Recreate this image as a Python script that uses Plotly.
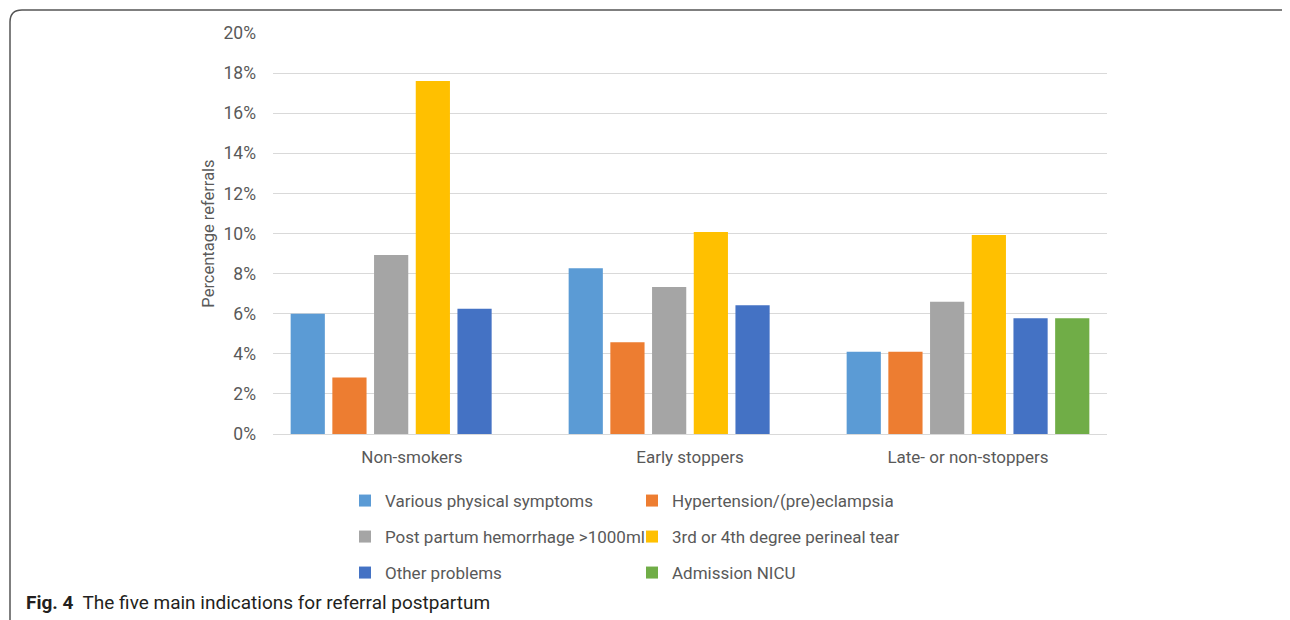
import plotly.graph_objects as go

categories = ["Non-smokers", "Early stoppers", "Late- or non-stoppers"]
series_names = [
    "Various physical symptoms",
    "Hypertension/(pre)eclampsia",
    "Post partum hemorrhage >1000ml",
    "3rd or 4th degree perineal tear",
    "Other problems",
    "Admission NICU",
]
various = [6.0, 8.27, 4.1]
hypertension = [2.82, 4.57, 4.1]
hemorrhage = [8.93, 7.33, 6.6]
perineal_tear = [17.6, 10.07, 9.92]
other_problems = [6.25, 6.42, 5.77]
nicu = [None, None, 5.77]
y_ticks = [0, 2, 4, 6, 8, 10, 12, 14, 16, 18, 20]
y_tick_labels = [f"{v}%" for v in y_ticks]

values = [various, hypertension, hemorrhage, perineal_tear, other_problems, nicu]
colors = ["#5B9BD5", "#ED7D31", "#A5A5A5", "#FFC000", "#4472C4", "#70AD47"]
legend_ids = ["legend", "legend", "legend2", "legend2", "legend3", "legend3"]

FONT = "Roboto, Arial, sans-serif"
OFF = 8  # default page body margin
W, H = 1290 - OFF, 620 - OFF
# plot area in page pixels
PL, PR, PT, PB = 273, 1107, 33, 434
L, R, T, B = PL - OFF, PR - OFF, PT - OFF, PB - OFF

def px_x(px):
    return (px - PL) / (PR - PL)

def px_y(py):
    return (PB - py) / (PB - PT)

fig = go.Figure()
for name, vals, col, lg in zip(series_names, values, colors, legend_ids):
    fig.add_trace(go.Bar(
        x=categories, y=vals, name=name, legend=lg,
        marker=dict(color=col, line=dict(width=0)),
    ))

legend_common = dict(
    orientation="h", xanchor="left", yanchor="middle",
    entrywidth=242, entrywidthmode="pixels",
    font=dict(family=FONT, size=17, color="#595959"),
    bgcolor="rgba(0,0,0,0)", itemwidth=30, traceorder="normal",
)

LEG_X = px_x(345)

fig.update_layout(
    width=W, height=H,
    margin=dict(l=L, r=W - R, t=T, b=H - B),
    paper_bgcolor="white", plot_bgcolor="white",
    barmode="group", bargap=0.1, bargroupgap=0.18,
    font=dict(family=FONT, size=17, color="#595959"),
    showlegend=True,
    legend=dict(x=LEG_X, y=px_y(501), **legend_common),
    legend2=dict(x=LEG_X, y=px_y(537), **legend_common),
    legend3=dict(x=LEG_X, y=px_y(573), **legend_common),
    xaxis=dict(
        showgrid=False, showline=True, linecolor="#D9D9D9", linewidth=1,
        ticks="", tickfont=dict(size=17, color="#595959"),
        ticklabelstandoff=8,
    ),
    yaxis=dict(
        range=[0, 20], tickvals=y_ticks, ticktext=y_tick_labels,
        showgrid=True, gridcolor="#D9D9D9", gridwidth=1,
        zeroline=False, showline=False, ticks="",
        tickfont=dict(size=17.5, color="#595959"),
        ticklabelstandoff=16,
        title=dict(text="Percentage referrals", standoff=4,
                   font=dict(size=16.5, color="#595959")),
    ),
    shapes=[dict(
        type="path", xref="paper", yref="paper",
        path=(f"M {px_x(10)},{px_y(622)} L {px_x(10)},{px_y(22)} "
              f"Q {px_x(10)},{px_y(10)} {px_x(22)},{px_y(10)} "
              f"L {px_x(1286)},{px_y(10)} L {px_x(1289)},{px_y(13)}"),
        line=dict(color="#555555", width=1.5),
    )],
    annotations=[dict(
        xref="paper", yref="paper", x=px_x(24), y=px_y(602),
        xanchor="left", yanchor="middle", showarrow=False,
        text="<b>Fig. 4</b>  The five main indications for referral postpartum",
        font=dict(family=FONT, size=19, color="#231F20"),
    )],
)

fig.write_html("out.html")
